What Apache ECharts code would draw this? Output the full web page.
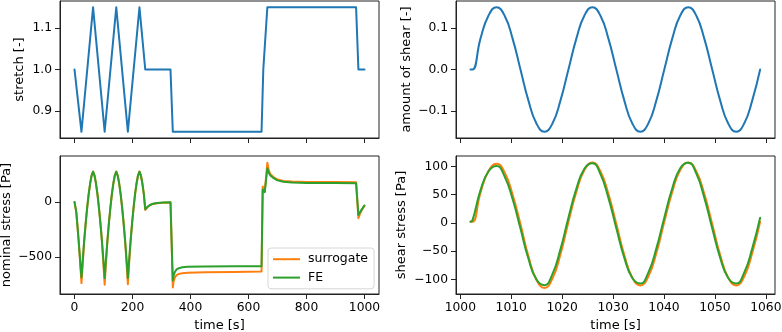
<!DOCTYPE html>
<html>
<head>
<meta charset="utf-8">
<title>stretch / shear</title>
<script src="https://cdn.jsdelivr.net/npm/echarts@6/dist/echarts.min.js"></script>
<style>
  html, body { margin: 0; padding: 0; background: #fff; }
  #chart { width: 782px; height: 332px; }
</style>
</head>
<body>
<div id="chart"></div>
<script>
  // --- left column: stretch protocol and nominal stress ---
  var stretchTime  = [0, 4, 24, 64, 104, 144, 184, 224, 244, 331, 339, 645, 651, 656, 665, 971, 979, 1000];
  var stretchValue = [1.0, 1.0, 0.85, 1.15, 0.85, 1.15, 0.85, 1.15, 1.0, 1.0, 0.85, 0.85, 1.0, 1.0, 1.15, 1.15, 1.0, 1.0];

  var nominalTime = [0, 3, 6, 10, 14, 18, 21, 24,
    26, 28, 31, 34, 39, 44, 49, 54, 59, 64,
    69, 74, 79, 84, 89, 94, 97, 100, 102, 104,
    106, 108, 111, 114, 119, 124, 129, 134, 139, 144,
    149, 154, 159, 164, 169, 174, 177, 180, 182, 184,
    186, 188, 191, 194, 199, 204, 209, 214, 219, 224,
    229, 234, 239, 244,
    247, 252, 260, 270, 285, 305, 331,
    339, 342, 346, 352, 360, 372, 390, 450, 550, 645,
    649, 652, 656, 665,
    670, 676, 685, 700, 720, 750, 800, 900, 971,
    979, 984, 990, 995, 1000];
  var nominalFE = [0, -10, -90, -210, -340, -480, -590, -684,
    -614, -541, -435, -334, -180, -44, 73, 169, 239, 274,
    239, 169, 73, -44, -180, -334, -435, -541, -614, -690,
    -614, -541, -435, -334, -180, -44, 73, 169, 239, 274,
    239, 169, 73, -44, -180, -334, -435, -541, -614, -690,
    -614, -541, -435, -334, -180, -44, 73, 169, 239, 274,
    239, 169, 73, -66,
    -58, -44, -28, -17, -10, -6, -4,
    -711, -665, -635, -612, -600, -592, -588, -585, -583, -582,
    110, 112, 88, 305,
    265, 238, 218, 195, 182, 175, 172, 171, 170,
    -118, -95, -70, -50, -32];
  var nominalSurrogate = [0, -10, -90, -212, -345, -490, -610, -735,
    -664, -575, -450, -334, -180, -44, 73, 169, 239, 276,
    239, 169, 73, -44, -180, -334, -450, -575, -664, -750,
    -664, -575, -450, -334, -180, -44, 73, 169, 239, 276,
    239, 169, 73, -44, -180, -334, -450, -575, -664, -745,
    -664, -575, -450, -334, -180, -44, 73, 169, 239, 276,
    239, 169, 73, -72,
    -62, -46, -30, -18, -11, -7, -5,
    -775, -715, -685, -663, -652, -645, -641, -638, -634, -630,
    140, 145, 95, 355,
    285, 250, 228, 203, 190, 184, 181, 180, 179,
    -147, -110, -78, -55, -36];

  // --- right column: simple shear protocol and shear stress ---
  var shearTime = [1002.0, 1002.40, 1003.97, 1005.54, 1007.11, 1008.68, 1010.25, 1011.81, 1013.38,
    1014.95, 1016.52, 1018.09, 1019.66, 1021.23, 1022.80, 1024.37, 1025.94, 1027.50,
    1029.07, 1030.64, 1032.21, 1033.78, 1035.35, 1036.92, 1038.49, 1040.06, 1041.63,
    1043.19, 1044.76, 1046.33, 1047.90, 1049.47, 1051.04, 1052.61, 1054.18, 1055.75,
    1057.32, 1058.88];
  var shearAmount = [0, 0, 0.075, 0.13, 0.15, 0.13, 0.075, 0, -0.075, -0.13, -0.15, -0.13, -0.075,
    0, 0.075, 0.13, 0.15, 0.13, 0.075, 0, -0.075, -0.13, -0.15, -0.13, -0.075,
    0, 0.075, 0.13, 0.15, 0.13, 0.075, 0, -0.075, -0.13, -0.15, -0.13, -0.075, 0];
  var shearFE = [2, 5, 58, 91.5, 100.6, 82.7, 42.7, -10, -63.5, -100.2, -110.2, -90.6, -46.8,
    9.2, 60.8, 96, 105.6, 86.8, 44.8, -9.4, -61.8, -97.5, -107.2, -88.1, -45.5,
    9.3, 61.4, 96.9, 106.6, 87.6, 45.3, -9.4, -61.8, -97.5, -107.2, -88.1, -45.5, 9.3];
  var shearSurrogate = [2, 2, 54, 91.9, 105, 90, 50.9, -2, -59.2, -100.6, -115, -98.6, -55.8,
    1.8, 55.1, 93.6, 107, 91.7, 51.9, -1.9, -57, -96.8, -110.6, -94.8, -53.6,
    1.9, 55.1, 93.6, 107, 91.7, 51.9, -1.9, -57, -96.8, -110.6, -94.8, -53.6, 1.9];

  // tick positions
  var ticksLongTime  = [0, 200, 400, 600, 800, 1000];
  var ticksShortTime = [1000, 1010, 1020, 1030, 1040, 1050, 1060];
  var ticksStretch   = [0.9, 1.0, 1.1];
  var ticksShear     = [-0.1, 0.0, 0.1];
  var ticksNominal   = [-500, 0];
  var ticksShearStr  = [-100, -50, 0, 50, 100];

  var font = 'DejaVu Sans';
  var ink = '#222';
  var blue = '#1f77b4', orange = '#ff7f0e', green = '#2ca02c';

  function zip(xs, ys) {
    return xs.map(function (x, i) { return [x, ys[i]]; });
  }
  function minus(s) { return String(s).replace('-', '\u2212'); }
  function fmtInt(v) { return minus(Math.round(v)); }
  function fmt1(v) { return minus(v.toFixed(1)); }

  function axis(grid, min, max, ticks, fmt, opts) {
    opts = opts || {};
    return {
      type: 'value', gridIndex: grid, min: min, max: max,
      name: opts.name || '', nameLocation: 'middle', nameGap: opts.gap || 0,
      nameMoveOverlap: false,
      nameTextStyle: {fontFamily: font, fontSize: 13, color: '#000'},
      axisLine: {show: true, onZero: false, lineStyle: {color: ink, width: 1}},
      splitLine: {show: false},
      axisTick: {show: true, inside: false, length: 5, customValues: ticks,
        lineStyle: {color: ink, width: 1}},
      axisLabel: {show: opts.label !== false, customValues: ticks, formatter: fmt,
        margin: 8, fontFamily: font, fontSize: 12.3, color: '#000'}
    };
  }

  function grid(left, top, height) {
    return {left: left, top: top, width: 319, height: height, show: true,
      borderColor: ink, borderWidth: 1, backgroundColor: '#fff',
      containLabel: false, outerBoundsMode: 'none'};
  }

  function line(name, xi, data, color, smooth) {
    return {
      name: name, type: 'line', xAxisIndex: xi, yAxisIndex: xi, data: data,
      showSymbol: false, smooth: smooth || false, animation: false,
      itemStyle: {color: color},
      lineStyle: {color: color, width: 2, join: 'round', cap: 'round'}
    };
  }

  var chart = echarts.init(document.getElementById('chart'));
  chart.setOption({
    animation: false,
    backgroundColor: '#fff',
    grid: [grid(60, 1, 137), grid(456, 1, 137), grid(60, 156, 138), grid(456, 156, 138)],
    xAxis: [
      axis(0, -50, 1050, ticksLongTime, fmtInt, {label: false}),
      axis(1, 999.15, 1061.8, ticksShortTime, fmtInt, {label: false}),
      axis(2, -50, 1050, ticksLongTime, fmtInt, {name: 'time [s]', gap: 25}),
      axis(3, 999.15, 1061.8, ticksShortTime, fmtInt, {name: 'time [s]', gap: 25})
    ],
    yAxis: [
      axis(0, 0.835, 1.165, ticksStretch, fmt1, {name: 'stretch [-]', gap: 34}),
      axis(1, -0.165, 0.165, ticksShear, fmt1, {name: 'amount of shear [-]', gap: 43}),
      axis(2, -834, 416, ticksNominal, fmtInt, {name: 'nominal stress [Pa]', gap: 47}),
      axis(3, -125.8, 118.5, ticksShearStr, fmtInt, {name: 'shear stress [Pa]', gap: 48})
    ],
    legend: {
      data: ['surrogate', 'FE'], left: 268, top: 248, orient: 'vertical',
      icon: 'rect', itemWidth: 27, itemHeight: 2, itemGap: 4,
      padding: [4, 6, 4, 5],
      backgroundColor: 'rgba(255,255,255,0.8)', borderColor: '#d6d6d6',
      borderWidth: 1, borderRadius: 3,
      textStyle: {fontFamily: font, fontSize: 12.5, color: '#000', lineHeight: 14.4, padding: [0, 0, 0, 3]}
    },
    series: [
      line('stretch', 0, zip(stretchTime, stretchValue), blue),
      line('amount of shear', 1, zip(shearTime, shearAmount), blue, true),
      line('surrogate', 2, zip(nominalTime, nominalSurrogate), orange),
      line('FE', 2, zip(nominalTime, nominalFE), green),
      line('surrogate', 3, zip(shearTime, shearSurrogate), orange, true),
      line('FE', 3, zip(shearTime, shearFE), green, true)
    ]
  });
</script>
</body>
</html>
